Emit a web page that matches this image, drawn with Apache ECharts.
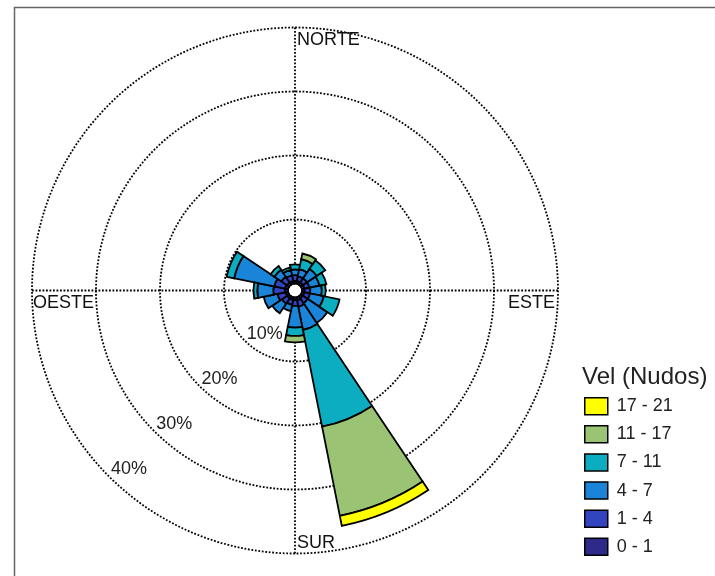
<!DOCTYPE html>
<html>
<head>
<meta charset="utf-8">
<script src="https://cdn.jsdelivr.net/npm/echarts@6/dist/echarts.min.js"></script>
<style>
  html, body { margin: 0; padding: 0; background: #fff; }
  #chart { width: 715px; height: 576px; }
</style>
</head>
<body>
<div id="chart"></div>
<script>
// Wind directions (16 sectors, clockwise from north)
const directions = ['N', 'NNE', 'NE', 'ENE', 'E', 'ESE', 'SE', 'SSE',
                    'S', 'SSW', 'SW', 'WSW', 'W', 'WNW', 'NW', 'NNW'];

// Speed classes in knots, innermost first
const speedClasses = ['0 - 1', '1 - 4', '4 - 7', '7 - 11', '11 - 17', '17 - 21'];

// Frequency (%) per direction for each speed class; null = no observations
const freq0to1   = [0.4, 0.4, 0.4, 0.4, 0.4, 0.4, 0.4, 0.5, 0.4, 0.4, 0.4, 0.4, 0.5, 0.5, 0.4, 0.4];
const freq1to4   = [0.9, 0.8, 0.8, 0.8, 0.9, 0.9, 0.9, 1.0, 0.9, 0.8, 1.0, 1.3, 1.8, 1.7, 1.1, 0.9];
const freq4to7   = [0.9, 1.1, 1.8, 1.6, 1.8, 2.2, 3.7, 3.7, 3.4, 1.0, 1.8, 2.2, 2.5, 6.4, 1.3, 0.9];
const freq7to11  = [0.8, 1.6, 1.6, 1.1, 0.6, 2.5, null, 15.4, 1.3, null, null, null, 0.6, 1.2, 0.7, 0.4];
const freq11to17 = [null, 0.9, null, null, null, null, null, 14.2, 1.0, null, null, null, null, null, null, null];
const freq17to21 = [null, null, null, null, null, null, null, 1.6, null, null, null, null, null, null, null, null];

// Ring levels (%) and compass labels
const ringLevels = [10, 20, 30, 40];
const compassLabels = ['NORTE', 'ESTE', 'SUR', 'OESTE'];

const classValues = [freq0to1, freq1to4, freq4to7, freq7to11, freq11to17, freq17to21];
const classColors = ['#2e2a8a', '#3344c0', '#1a84d8', '#0cadc0', '#9bc374', '#ffff00'];

const FONT = '"Liberation Sans", Arial, Helvetica, sans-serif';
const CX = 295, CY = 290.5, R_IN = 7, R_OUT = 263;
const R_MAX = ringLevels[ringLevels.length - 1];
const SECTOR = 360 / directions.length;

const dotted = { color: '#000', width: 1.8, type: [1.8, 1.7] };

const chart = echarts.init(document.getElementById('chart'), null, { renderer: 'canvas' });

const option = {
  animation: false,
  backgroundColor: '#fff',
  polar: [
    { center: [CX, CY], radius: [R_IN, R_OUT] },   // bars
    { center: [CX, CY], radius: [R_IN, R_OUT] },   // dotted grid
    { center: [CX, CY], radius: [R_IN, R_OUT] }    // ring labels along the SW diagonal
  ],
  angleAxis: [
    {
      polarIndex: 0, type: 'category', data: directions,
      startAngle: 90 + SECTOR / 2, clockwise: true,
      axisLine: { show: false }, axisTick: { show: false },
      axisLabel: { show: false }, splitLine: { show: false }
    },
    {
      polarIndex: 1, type: 'value', min: 0, max: 360, interval: 90,
      startAngle: 90, clockwise: true,
      axisLine: { show: false }, axisTick: { show: false },
      axisLabel: { show: false },
      splitLine: { show: true, lineStyle: dotted }
    },
    {
      polarIndex: 2, type: 'value', min: 0, max: 360,
      startAngle: 225,
      axisLine: { show: false }, axisTick: { show: false },
      axisLabel: { show: false }, splitLine: { show: false }
    }
  ],
  radiusAxis: [
    {
      polarIndex: 0, type: 'value', min: 0, max: R_MAX,
      axisLine: { show: false }, axisTick: { show: false },
      axisLabel: { show: false }, splitLine: { show: false }
    },
    {
      polarIndex: 1, type: 'value', min: 0, max: R_MAX, interval: 10,
      axisLine: { show: false }, axisTick: { show: false },
      axisLabel: { show: false },
      splitLine: { show: true, lineStyle: dotted }
    },
    {
      polarIndex: 2, type: 'value', min: 0, max: R_MAX, interval: 10,
      axisLine: { show: false }, axisTick: { show: false },
      splitLine: { show: false },
      axisLabel: {
        show: true, margin: 0, showMinLabel: false,
        align: 'left', verticalAlign: 'bottom',
        padding: [0, 0, -2, 2],
        fontFamily: FONT, fontSize: 18, color: '#222',
        formatter: v => ringLevels.includes(v) ? v + '%' : ''
      }
    }
  ],
  title: {
    text: 'Vel (Nudos)', left: 582, top: 365, padding: 0,
    textStyle: { fontFamily: FONT, fontSize: 24, fontWeight: 'normal', color: '#222' }
  },
  legend: {
    data: speedClasses.slice().reverse(),
    orient: 'vertical', left: 584, top: 397, padding: 0,
    itemWidth: 23, itemHeight: 17, itemGap: 9.6, icon: 'rect',
    selectedMode: false,
    itemStyle: { borderColor: '#000', borderWidth: 1.5 },
    textStyle: { fontFamily: FONT, fontSize: 18, color: '#222', lineHeight: 17, padding: [0, 0, 0, 4] }
  },
  series: speedClasses.map((name, i) => ({
    type: 'bar', name,
    coordinateSystem: 'polar', polarIndex: 0,
    stack: 'freq',
    barCategoryGap: '0%',
    data: classValues[i],
    z: 5,
    itemStyle: { color: classColors[i], borderColor: '#000', borderWidth: 1.8 },
    emphasis: { disabled: true }
  })),
  graphic: [
    // frame
    { type: 'rect', left: 12, top: 5, shape: { x: 0, y: 0, width: 720, height: 600 },
      style: { fill: 'none', stroke: '#666', lineWidth: 1.5 }, silent: true, z: 0 },
    // compass labels
    { type: 'text', x: CX + 2, y: CY - R_OUT + 13,
      style: { text: compassLabels[0], font: '18px ' + FONT, fill: '#111', align: 'left', verticalAlign: 'middle' }, z: 10 },
    { type: 'text', x: CX + R_OUT - 3, y: CY + 12.5,
      style: { text: compassLabels[1], font: '18px ' + FONT, fill: '#111', align: 'right', verticalAlign: 'middle' }, z: 10 },
    { type: 'text', x: CX + 2, y: CY + R_OUT - 10,
      style: { text: compassLabels[2], font: '18px ' + FONT, fill: '#111', align: 'left', verticalAlign: 'middle' }, z: 10 },
    { type: 'text', x: CX - R_OUT + 1, y: CY + 12.5,
      style: { text: compassLabels[3], font: '18px ' + FONT, fill: '#111', align: 'left', verticalAlign: 'middle' }, z: 10 }
  ]
};

chart.setOption(option);
</script>
</body>
</html>
